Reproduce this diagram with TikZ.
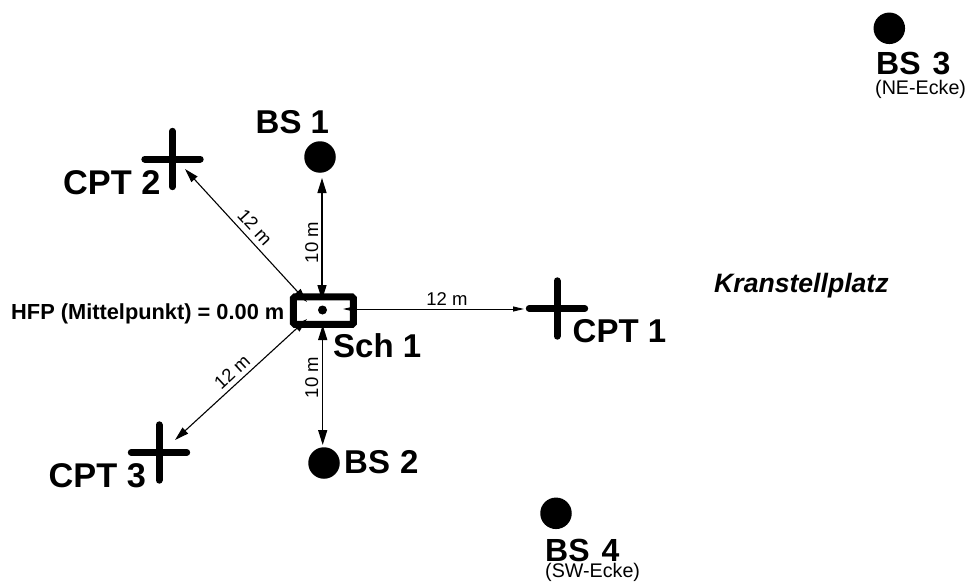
\documentclass[tikz,border=0pt]{standalone}
\usepackage{fontspec}
\setmainfont{Liberation Sans}
\usetikzlibrary{arrows.meta}
\tikzset{
  x=1pt,y=-1pt,
  bsdot/.style={circle,fill=black,inner sep=0pt,minimum size=31.5pt},
  crossbox/.style={inner sep=0pt,minimum size=62pt},
  crossbar/.style={line width=7pt,line cap=round,shorten >=3.5pt,shorten <=3.5pt},
  big/.style={font=\fontsize{33}{33}\selectfont\bfseries,inner sep=0pt,anchor=base west},
  bigger/.style={font=\fontsize{34.3}{34}\selectfont\bfseries,inner sep=0pt,anchor=base west},
  small/.style={font=\fontsize{19.7}{20}\selectfont,inner sep=0pt,anchor=base west},
  dim/.style={font=\fontsize{18.5}{18}\selectfont,inner sep=0pt},
  connv/.style={line width=1.4pt,{Stealth[inset=0pt,length=15pt,width=9pt]}-{Stealth[inset=0pt,length=15pt,width=9pt]}},
  connd/.style={line width=1.1pt,{Stealth[inset=0pt,length=14pt,width=8pt]}-{Stealth[inset=0pt,length=14pt,width=8pt]}},
  connr/.style={line width=1pt,{Stealth[inset=0pt,length=11pt,width=5pt]}-{Stealth[inset=0pt,length=11pt,width=5pt]}},
  schbox/.style={draw,line width=7pt,rounded corners=1.5pt,inner sep=0pt,minimum width=60pt,minimum height=27.5pt}
}
\begin{document}
\begin{tikzpicture}
\useasboundingbox (0,0) rectangle (970,586);
% circles
\node[bsdot] (bs1) at (320,157) {};
\node[bsdot] (bs2) at (324,463) {};
\node[bsdot] (bs3) at (889.3,28.3) {};
\node[bsdot] (bs4) at (556,513.3) {};
% crosses
\node[crossbox] (c1) at (557,308.5) {};
\node[crossbox] (c2) at (172.5,159) {};
\node[crossbox] (c3) at (159,452.5) {};
\foreach \c in {c1,c2,c3}{
  \draw[crossbar] (\c.west) -- (\c.east);
  \draw[crossbar] (\c.north) -- (\c.south);
}
% Schnurgeruest
\node[schbox] (sch) at (323.4,310.7) {};
\node[circle,fill=black,inner sep=0pt,minimum size=9pt] (hfp) at (322.5,310) {};
% connector ends
\coordinate (e1a) at (343,309);
\coordinate (e1b) at (524,309);
\coordinate (e2a) at (307,302);
\coordinate (e2b) at (185,169);
\coordinate (e3a) at (307,319);
\coordinate (e3b) at (175,440);
\coordinate (e4a) at (322,300);
\coordinate (e4b) at (322,178);
\coordinate (e5a) at (322.7,325);
\coordinate (e5b) at (322.7,445);
\draw[connr] (e1a) -- (e1b);
\draw[connd] (e2a) -- (e2b);
\draw[connd] (e3a) -- (e3b);
\draw[connv] (e4a) -- (e4b);
\draw[connv] (e5a) -- (e5b);
% dimension labels
\node[dim,anchor=base] (d1) at (447,305.7) {12 m};
\node[dim,rotate=-47.5] (d2) at (255,227) {12 m};
\node[dim,rotate=43] (d3) at (232,372) {12 m};
\node[dim,rotate=90,anchor=base] (d4) at (318,242.5) {10 m};
\node[dim,rotate=90,anchor=base] (d5) at (318,377.5) {10 m};
% labels
\node[big] (lbs1) at (255.5,133) {BS 1};
\node[big] (lbs2) at (344,473) {BS\ \kern1pt2};
\node[big,font=\fontsize{32}{32}\selectfont\bfseries] (lbs3) at (876,75) {BS\ \kern3pt 3};
\node[big,font=\fontsize{32}{32}\selectfont\bfseries] (lbs4) at (545,561) {BS\ \kern3pt 4};
\node[small] (lne) at (875,95) {(NE-Ecke)};
\node[small] (lsw) at (545,577) {(SW-Ecke)};
\node[big] (lc1) at (572.5,342.7) {CPT 1};
\node[bigger] (lc2) at (63,194) {CPT 2};
\node[bigger] (lc3) at (48.5,487) {CPT 3};
\node[big] (lsch) at (333,357) {Sch 1};
\node[inner sep=0pt,anchor=base west,font=\fontsize{21.8}{22}\selectfont\bfseries] (lhfp) at (11,319) {HFP (Mittelpunkt) = 0.00 m};
\node[inner sep=0pt,anchor=base west,font=\fontsize{26.6}{27}\selectfont\bfseries\itshape] (lkr) at (714,292) {Kranstellplatz};
\end{tikzpicture}
\end{document}
